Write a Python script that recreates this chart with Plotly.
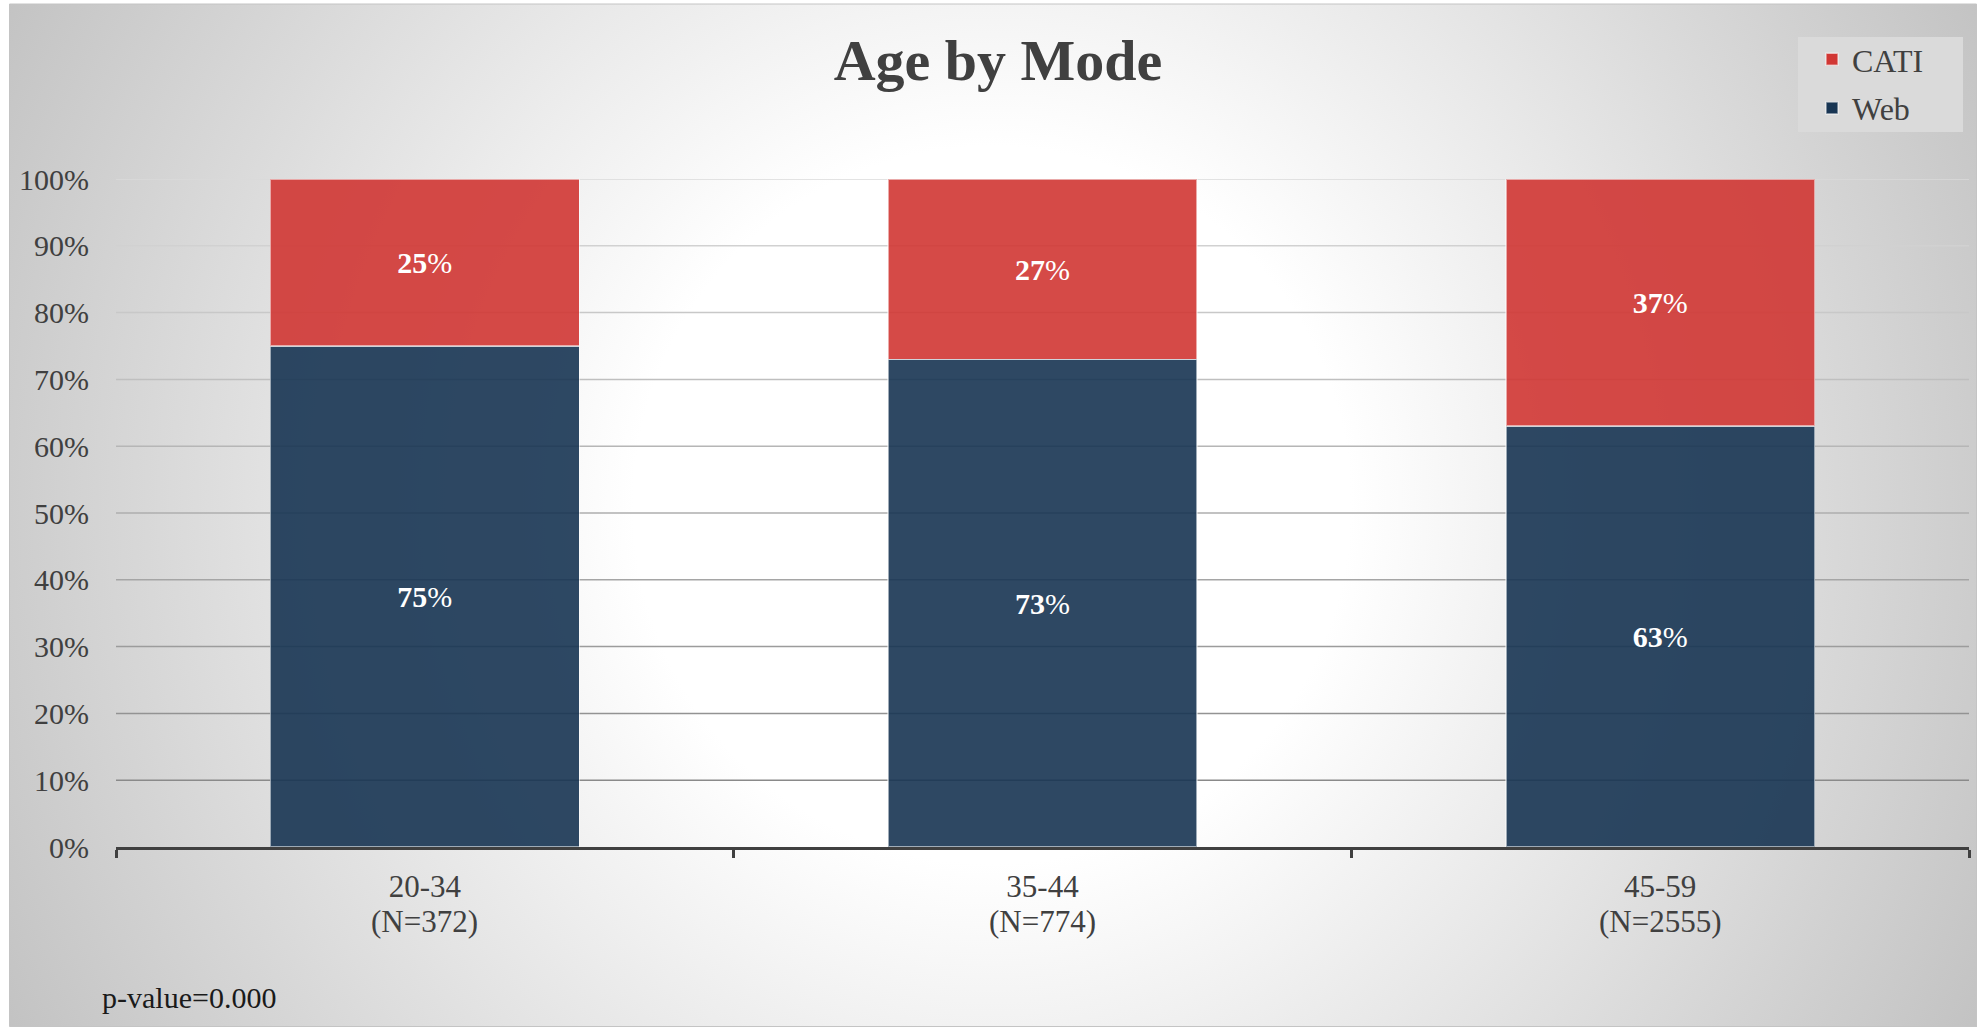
import base64
import plotly.graph_objects as go

# ---- data ----
age_groups = ["20-34", "35-44", "45-59"]
sample_sizes = [372, 774, 2555]
web_pct = [75, 73, 63]
cati_pct = [25, 27, 37]
y_ticks = [0, 10, 20, 30, 40, 50, 60, 70, 80, 90, 100]
y_tick_labels = [f"{v}%" for v in y_ticks]
p_value_text = "p-value=0.000"

# ---- canvas geometry (pixels) ----
W, H = 1977, 1027
ML, MR, MT, MB = 116, 8, 179, 180
PW, PH = W - ML - MR, H - MT - MB


def px2x(px):
    return (px - ML) / PW


def px2y(py):
    return (H - MB - py) / PH


SERIF = "Liberation Serif, Times New Roman, serif"
TXT = "#404040"

# radial background (white centre fading to grey edges)
bx0, by0 = 9.5, 4
bw, bh = W - bx0, H - by0
svg = (
    f'<svg xmlns="http://www.w3.org/2000/svg" width="{bw:.0f}" height="{bh:.0f}" '
    f'viewBox="0 0 {bw:.1f} {bh:.1f}" preserveAspectRatio="none">'
    '<defs><radialGradient id="g" gradientUnits="userSpaceOnUse" '
    f'cx="{992 - bx0:.1f}" cy="{505 - by0:.1f}" r="1120">'
    '<stop offset="0" stop-color="#ffffff"/>'
    '<stop offset="0.32" stop-color="#ffffff"/>'
    '<stop offset="1" stop-color="#c2c2c2"/>'
    '</radialGradient></defs>'
    '<rect x="0" y="0" width="100%" height="100%" fill="url(#g)"/></svg>'
)
bg_src = "data:image/svg+xml;base64," + base64.b64encode(svg.encode()).decode()

bar_line = dict(color="rgba(255,255,255,0.55)", width=1.5)
bar_text = dict(family=SERIF, size=30, color="white")

fig = go.Figure()
fig.add_trace(go.Bar(
    name="Web", x=age_groups, y=web_pct, legendgroup="web", legendrank=2,
    marker=dict(color="rgb(24,53,83)", opacity=0.9, line=bar_line),
    text=[f"<b>{v}</b>%" for v in web_pct], texttemplate="%{text}",
    textposition="inside", insidetextanchor="middle", textangle=0,
    textfont=bar_text, hoverinfo="skip",
))
fig.add_trace(go.Bar(
    name="CATI", x=age_groups, y=cati_pct, legendgroup="cati", legendrank=1,
    marker=dict(color="rgb(209,55,52)", opacity=0.9, line=bar_line),
    text=[f"<b>{v}</b>%" for v in cati_pct], texttemplate="%{text}",
    textposition="inside", insidetextanchor="middle", textangle=0,
    textfont=bar_text, hoverinfo="skip",
))

shapes = []
# gridlines, darkening towards the baseline
for v in y_ticks[1:]:
    g = int(round(218 - (100 - v) / 90 * (218 - 138)))
    shapes.append(dict(type="line", xref="paper", yref="y", x0=0, x1=1,
                       y0=v, y1=v, layer="below",
                       line=dict(color=f"rgb({g},{g},{g})", width=1.5)))
# legend box
shapes.append(dict(type="rect", xref="paper", yref="paper",
                   x0=px2x(1798), x1=px2x(1963), y0=px2y(37), y1=px2y(132),
                   fillcolor="#dadada", line=dict(width=0), layer="below"))
# chart frame
shapes.append(dict(type="rect", xref="paper", yref="paper",
                   x0=px2x(bx0), x1=px2x(W - 0.5), y0=px2y(by0), y1=px2y(H - 0.5),
                   fillcolor="rgba(0,0,0,0)", line=dict(color="#c4c4c4", width=1),
                   layer="below"))

annotations = [dict(text=p_value_text, xref="paper", yref="paper",
                    x=px2x(100), y=px2y(997), xanchor="left", yanchor="middle",
                    showarrow=False,
                    font=dict(family=SERIF, size=30, color="#1a1a1a"))]
# sample-size line under each category label
for a, n in zip(age_groups, sample_sizes):
    annotations.append(dict(text=f"(N={n})", xref="x", yref="paper",
                            x=a, y=px2y(922), xanchor="center", yanchor="middle",
                            showarrow=False,
                            font=dict(family=SERIF, size=31, color=TXT)))

fig.update_layout(
    width=W, height=H,
    margin=dict(l=ML, r=MR, t=MT, b=MB, pad=0),
    paper_bgcolor="white",
    plot_bgcolor="rgba(0,0,0,0)",
    barmode="stack",
    bargap=0.5,
    font=dict(family=SERIF, color=TXT),
    title=dict(text="<b>Age by Mode</b>", x=998 / W, xanchor="center",
               y=1 - 60 / H, yanchor="middle", yref="container",
               font=dict(family=SERIF, size=58, color=TXT)),
    images=[dict(source=bg_src, xref="paper", yref="paper",
                 x=px2x(bx0), y=px2y(by0), sizex=bw / PW, sizey=bh / PH,
                 xanchor="left", yanchor="top", sizing="stretch", layer="below")],
    shapes=shapes,
    legend=dict(x=px2x(1812), y=px2y(32), xanchor="left", yanchor="top",
                bgcolor="rgba(0,0,0,0)", borderwidth=0,
                traceorder="grouped", tracegroupgap=4,
                font=dict(family=SERIF, size=32, color=TXT)),
    annotations=annotations,
    showlegend=True,
)

fig.update_xaxes(
    tickmode="array", tickvals=age_groups, ticktext=age_groups,
    showline=True, linecolor=TXT, linewidth=3,
    ticks="outside", tickson="boundaries", ticklen=8, tickwidth=3, tickcolor=TXT,
    tickfont=dict(family=SERIF, size=31, color=TXT),
    showgrid=False, zeroline=False, ticklabelstandoff=10,
)
fig.update_yaxes(
    range=[0, 100], tickmode="array", tickvals=y_ticks, ticktext=y_tick_labels,
    showgrid=False, zeroline=False, showline=False, ticks="",
    tickfont=dict(family=SERIF, size=30, color=TXT),
    ticklabelstandoff=26,
)

fig.write_html("out.html")
